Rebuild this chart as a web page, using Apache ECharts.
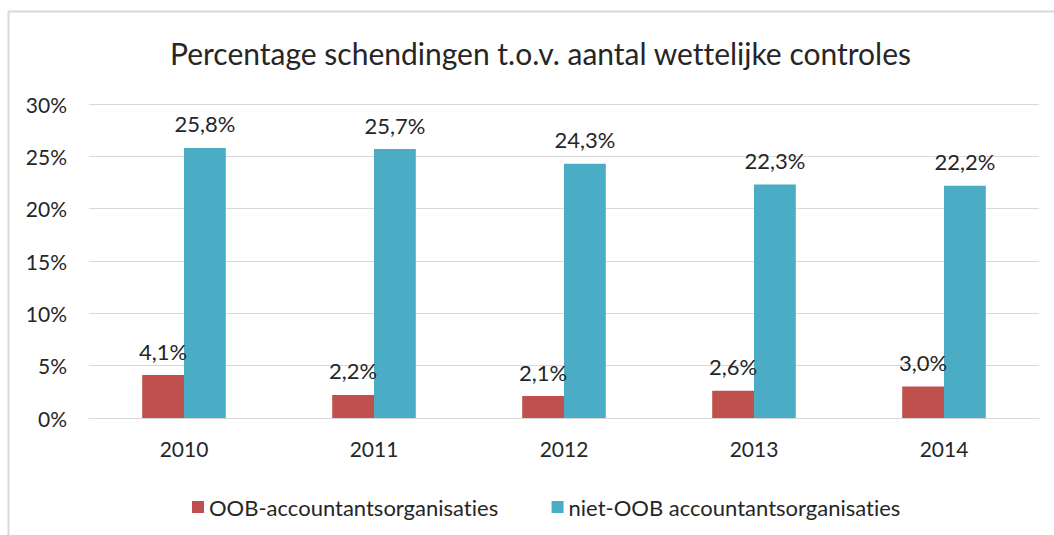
<!DOCTYPE html>
<html>
<head>
<meta charset="utf-8">
<script src="https://cdn.jsdelivr.net/npm/echarts@6/dist/echarts.min.js"></script>
<style>
html,body{margin:0;padding:0;background:#fff;}
#chart{width:1054px;height:535px;}
#chart text{font-variant-ligatures:none;}
</style>
</head>
<body>
<div id="chart"></div>
<script>
const categories = ['2010', '2011', '2012', '2013', '2014'];
const seriesNames = ['OOB-accountantsorganisaties', 'niet-OOB accountantsorganisaties'];
const oobValues = [4.1, 2.2, 2.1, 2.6, 3.0];
const nietOobValues = [25.8, 25.7, 24.3, 22.3, 22.2];
const yTicks = { min: 0, max: 30, interval: 5 };
const titleText = 'Percentage schendingen t.o.v. aantal wettelijke controles';

const FONT = 'Lato';
const TXT = '#262626';
const chart = echarts.init(document.getElementById('chart'), null, { renderer: 'svg' });
const labelFmt = p => p.value.toFixed(1).replace('.', ',') + '%';

chart.setOption({
  animation: false,
  backgroundColor: '#fff',
  textStyle: { fontFamily: FONT, color: TXT },
  title: {
    text: titleText,
    left: 165,
    top: 33,
    textStyle: { fontFamily: FONT, fontSize: 30, fontWeight: 'normal', color: TXT }
  },
  graphic: [{
    type: 'rect',
    shape: { x: 8.5, y: 11.5, width: 1100, height: 600 },
    style: { fill: 'none', stroke: '#d9d9d9', lineWidth: 2 },
    silent: true
  }],
  legend: {
    left: 187,
    top: 491,
    itemWidth: 12,
    itemHeight: 12,
    itemGap: 53,
    icon: 'rect',
    textStyle: { fontFamily: FONT, fontSize: 22, color: TXT },
    data: seriesNames
  },
  grid: { left: 89, right: 15, top: 104, bottom: 117, containLabel: false },
  xAxis: {
    type: 'category',
    data: categories,
    axisTick: { show: false },
    axisLine: { show: true, lineStyle: { color: '#d9d9d9', width: 1 } },
    axisLabel: { fontFamily: FONT, fontSize: 21, color: TXT, margin: 20 }
  },
  yAxis: {
    type: 'value',
    min: yTicks.min,
    max: yTicks.max,
    interval: yTicks.interval,
    axisLine: { show: false },
    axisTick: { show: false },
    splitLine: { lineStyle: { color: '#d9d9d9', width: 1 } },
    axisLabel: { fontFamily: FONT, fontSize: 21, color: TXT, margin: 22, formatter: '{value}%' }
  },
  series: [
    {
      name: seriesNames[0],
      type: 'bar',
      data: oobValues,
      barWidth: '22%',
      barGap: '0%',
      itemStyle: { color: '#C0504D' },
      label: { show: true, position: 'top', distance: 13, formatter: labelFmt, fontFamily: FONT, fontSize: 22, color: TXT }
    },
    {
      name: seriesNames[1],
      type: 'bar',
      data: nietOobValues,
      barWidth: '22%',
      itemStyle: { color: '#4BACC6' },
      label: { show: true, position: 'top', distance: 13, formatter: labelFmt, fontFamily: FONT, fontSize: 22, color: TXT }
    }
  ]
});
</script>
</body>
</html>
